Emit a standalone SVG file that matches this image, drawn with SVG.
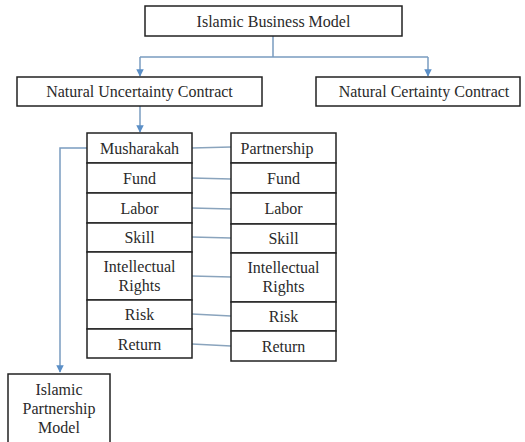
<svg xmlns="http://www.w3.org/2000/svg" width="525" height="442" viewBox="0 0 525 442" font-family="Liberation Serif, Times New Roman, serif">
<style>
.box{fill:#fff;stroke:#222;stroke-width:1.5}
.t{font-size:16px;fill:#2a2a2a;text-anchor:middle}
.c{fill:none;stroke:#8aa4bd;stroke-width:1.3}
.a{fill:none;stroke:#7a9cc0;stroke-width:1.5}
</style>
<defs>
<marker id="ah" viewBox="0 0 10 10" refX="9" refY="5" markerWidth="5" markerHeight="5" orient="auto" markerUnits="strokeWidth">
<path d="M0,0 L10,5 L0,10 z" fill="#5b8fc7"/>
</marker>
</defs>
<rect width="525" height="442" fill="#fff"/>
<g id="connectors">
<path class="a" d="M273,36 V57 M140,57 H428"/>
<path class="a" d="M140,57 V76" marker-end="url(#ah)"/>
<path class="a" d="M428,57 V76" marker-end="url(#ah)"/>
<path class="a" d="M140,106 V132" marker-end="url(#ah)"/>
<path class="a" d="M87,148 H60 V372" marker-end="url(#ah)"/>
<path class="c" d="M192,148 L231,147"/>
<path class="c" d="M192,178 L231,179"/>
<path class="c" d="M192,208 L231,209"/>
<path class="c" d="M192,237 L231,238"/>
<path class="c" d="M192,276 L231,277"/>
<path class="c" d="M192,314 L231,316"/>
<path class="c" d="M192,344 L231,346"/>
</g>
<g id="islamic-business-model"><rect class="box" x="145" y="6" width="257" height="30"/><text class="t" x="273.5" y="27">Islamic Business Model</text></g>
<g id="natural-uncertainty"><rect class="box" x="17" y="77" width="245" height="29"/><text class="t" x="139.5" y="97">Natural Uncertainty Contract</text></g>
<g id="natural-certainty"><rect class="box" x="316" y="77" width="204" height="29"/><text class="t" x="424" y="97">Natural Certainty Contract</text></g>
<g id="musharakah"><rect class="box" x="87" y="133" width="105" height="30"/><text class="t" x="139.5" y="154">Musharakah</text></g>
<g id="m-fund"><rect class="box" x="87" y="163" width="105" height="30"/><text class="t" x="139.5" y="184">Fund</text></g>
<g id="m-labor"><rect class="box" x="87" y="193" width="105" height="30"/><text class="t" x="139.5" y="214">Labor</text></g>
<g id="m-skill"><rect class="box" x="87" y="223" width="105" height="29"/><text class="t" x="139.5" y="243">Skill</text></g>
<g id="m-ir"><rect class="box" x="87" y="252" width="105" height="48"/><text class="t" x="139.5" y="272">Intellectual</text><text class="t" x="139.5" y="291">Rights</text></g>
<g id="m-risk"><rect class="box" x="87" y="300" width="105" height="29"/><text class="t" x="139.5" y="320">Risk</text></g>
<g id="m-return"><rect class="box" x="87" y="329" width="105" height="29"/><text class="t" x="139.5" y="350">Return</text></g>
<g id="partnership"><rect class="box" x="231" y="133" width="105" height="30"/><text class="t" x="277" y="154">Partnership</text></g>
<g id="p-fund"><rect class="box" x="231" y="163" width="105" height="30"/><text class="t" x="283.5" y="184">Fund</text></g>
<g id="p-labor"><rect class="box" x="231" y="193" width="105" height="31"/><text class="t" x="283.5" y="214">Labor</text></g>
<g id="p-skill"><rect class="box" x="231" y="224" width="105" height="29"/><text class="t" x="283.5" y="244">Skill</text></g>
<g id="p-ir"><rect class="box" x="231" y="253" width="105" height="49"/><text class="t" x="283.5" y="273">Intellectual</text><text class="t" x="283.5" y="292">Rights</text></g>
<g id="p-risk"><rect class="box" x="231" y="302" width="105" height="29"/><text class="t" x="283.5" y="322">Risk</text></g>
<g id="p-return"><rect class="box" x="231" y="331" width="105" height="30"/><text class="t" x="283.5" y="352">Return</text></g>
<g id="islamic-partnership-model"><rect class="box" x="8" y="374" width="102" height="72"/><text class="t" x="59" y="395">Islamic</text><text class="t" x="59" y="414">Partnership</text><text class="t" x="59" y="433">Model</text></g>
</svg>
